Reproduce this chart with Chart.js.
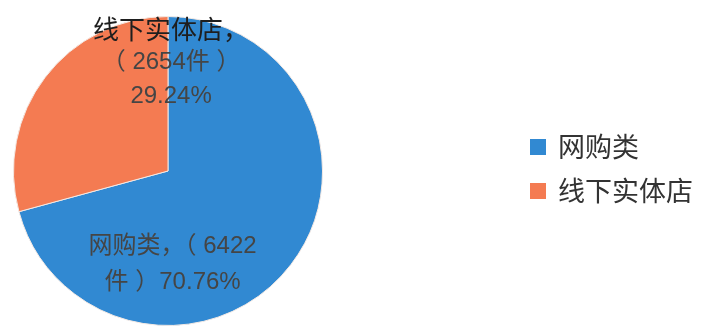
<!DOCTYPE html>
<html>
<head>
<meta charset="utf-8">
<script src="https://cdn.jsdelivr.net/npm/chart.js@4.4.0/dist/chart.umd.min.js"></script>
<style>
    html, body { margin: 0; padding: 0; background: #ffffff; }
    #wrap { width: 707px; height: 331px; position: relative; }
</style>
</head>
<body>
<div id="wrap"><canvas id="pie" width="707" height="331"></canvas></div>
<script>

const categories = ["网购类", "线下实体店"];
const counts = [6422, 2654];
const percents = [70.76, 29.24];
const colors = ["#3189d2", "#f47b52"];

// label lines for each slice, built from the values above
const labelLines = [
    [categories[0] + "，（ " + counts[0], "件 ）" + percents[0].toFixed(2) + "%"],
    [categories[1] + "，", "（ " + counts[1] + "件 ）", percents[1].toFixed(2) + "%"]
];

// where each label block sits, in units of the pie radius from its centre
const labelSpots = [
    { dx: 0.03, dy: [0.49, 0.72] },
    { dx: 0.02, dy: [-0.92, -0.70, -0.48] }
];

const sliceLabels = {
    id: "sliceLabels",
    afterDatasetsDraw(chart){
        const ctx = chart.ctx;
        const arc = chart.getDatasetMeta(0).data[0];
        const cx = arc.x, cy = arc.y, r = arc.outerRadius;

        ctx.save();
        ctx.textAlign = "center";
        ctx.textBaseline = "middle";

        labelLines.forEach((lines, i) => {
            const spot = labelSpots[i];
            lines.forEach((line, j) => {
                // the store name heading is a touch larger and darker
                if(i == 1 && j == 0){
                    ctx.font = "26px 'Noto Sans CJK SC'";
                    ctx.fillStyle = "#1e1e1e";
                } else {
                    ctx.font = "24px 'Liberation Sans', 'Noto Sans CJK SC'";
                    ctx.fillStyle = "#454545";
                }
                ctx.fillText(line, cx + spot.dx * r, cy + spot.dy[j] * r);
            })
        })
        ctx.restore();
    }
}

const sideLegend = {
    id: "sideLegend",
    afterDraw(chart){
        const ctx = chart.ctx;
        const x = 530, top = 147, gap = 44, box = 16;

        ctx.save();
        ctx.textBaseline = "middle";
        ctx.font = "27px 'Noto Sans CJK SC'";

        chart.data.labels.forEach((label, i) => {
            const y = top + i * gap;
            ctx.fillStyle = chart.data.datasets[0].backgroundColor[i];
            ctx.fillRect(x, y - box / 2, box, box);
            ctx.fillStyle = "#333333";
            ctx.fillText(label, x + 28, y);
        })
        ctx.restore();
    }
}

new Chart(document.querySelector("#pie").getContext("2d"), {
    type: "pie",
    data: {
        labels: categories,
        datasets: [{
            data: counts,
            backgroundColor: colors,
            borderColor: "#f3e9e4",
            borderWidth: 1
        }]
    },
    options: {
        responsive: false,
        animation: false,
        layout: {
            padding: { left: 13, top: 16, right: 384, bottom: 5 }
        },
        plugins: {
            legend: { display: false },
            tooltip: { enabled: false }
        }
    },
    plugins: [sliceLabels, sideLegend]
});

</script>
</body>
</html>
